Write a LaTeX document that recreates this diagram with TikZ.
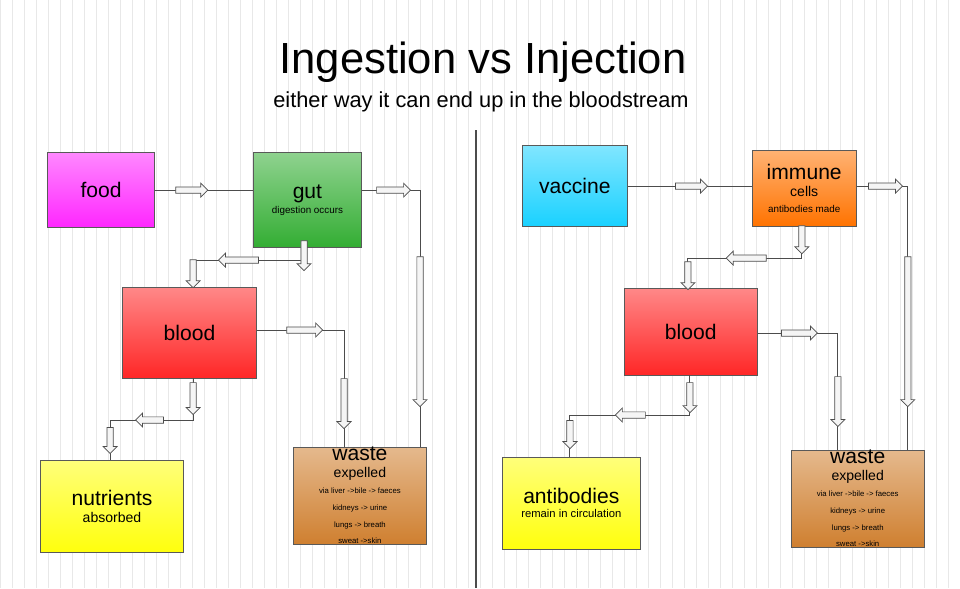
\documentclass[tikz,border=0pt]{standalone}
\usepackage{fontspec}
\setmainfont{Liberation Sans}
\usetikzlibrary{shapes.arrows}
\begin{document}
\begin{tikzpicture}[x=0.025cm,y=-0.025cm,
  box/.style={draw=gray!70!black,line width=0.5pt,inner sep=0pt,anchor=north west,align=center},
  conn/.style={draw=gray!60!black,line width=0.7pt},
  barrow/.style={single arrow,draw=gray!60!black,fill=gray!8,line width=0.5pt,minimum width=14*0.025cm,single arrow head extend=2.5*0.025cm,inner sep=1.2pt,anchor=center},
  big/.style={font=\fontsize{15}{16}\selectfont},
  sm/.style={font=\fontsize{7}{8}\selectfont},
  tiny/.style={font=\fontsize{5}{5.6}\selectfont}]
\newcommand\mkbox[7]{\node[box,minimum width=#4*0.025cm,minimum height=#5*0.025cm,top color=#6!55!white,bottom color=#6] (#1) at (#2,#3) {#7};}
\newcommand\barr[4]{\node[barrow,rotate=#3,minimum height=#4*0.025cm] at (#1,#2) {};}
\fill[white] (0,0) rectangle (960,588);
\draw[gray!18,line width=0.3pt] (0,0) grid[step=12] (960,588);
\useasboundingbox (0,0) rectangle (960,588);
\node (t) at (483,62) {\fontsize{31}{34}\selectfont Ingestion vs Injection};
\node (st) at (481,102) {\fontsize{15.5}{17}\selectfont either way it can end up in the bloodstream};
\coordinate (d1) at (476,130); \coordinate (d2) at (476,588);
\draw[gray!60!black,line width=0.8pt] (d1) -- (d2);
% left boxes
\mkbox{food}{47}{152}{107}{75}{magenta!85!white}{\fontsize{15}{16}\selectfont food}
\mkbox{gut}{253}{152}{108}{95}{green!60!black!80!white}{\fontsize{15}{16}\selectfont gut\\[-1pt]\fontsize{7}{8}\selectfont digestion occurs}
\mkbox{blood}{122}{287}{134}{91}{red!85!white}{\fontsize{15}{16}\selectfont blood}
\mkbox{nut}{40}{460}{143}{92}{yellow!95!white}{\fontsize{15}{17}\selectfont nutrients\\absorbed}
\mkbox{waste}{293}{447}{133}{94}{brown!75!orange}{\fontsize{15}{16}\selectfont waste\\expelled\\[-1pt]\fontsize{5.5}{6.5}\selectfont via liver ->bile -> faeces\\\fontsize{5.5}{6.5}\selectfont kidneys -> urine\\\fontsize{5.5}{6.5}\selectfont lungs -> breath\\\fontsize{5.5}{6.5}\selectfont sweat ->skin}
% right boxes
\mkbox{vac}{522}{145}{105}{81}{cyan!80!blue!90!white}{\fontsize{15}{16}\selectfont vaccine}
\mkbox{imm}{752}{150}{104}{76}{orange!90!red}{\fontsize{15}{16}\selectfont immune\\cells\\[-1pt]\fontsize{7}{8}\selectfont antibodies made}
\mkbox{blood2}{624}{288}{133}{87}{red!85!white}{\fontsize{15}{16}\selectfont blood}
\mkbox{anti}{502}{457}{138}{92}{yellow!95!white}{\fontsize{15}{17}\selectfont antibodies\\[-2pt]\fontsize{8}{9}\selectfont remain in circulation}
\mkbox{waste2}{791}{450}{133}{96}{brown!75!orange}{\fontsize{15}{16}\selectfont waste\\expelled\\[-1pt]\fontsize{5.5}{6.5}\selectfont via liver ->bile -> faeces\\\fontsize{5.5}{6.5}\selectfont kidneys -> urine\\\fontsize{5.5}{6.5}\selectfont lungs -> breath\\\fontsize{5.5}{6.5}\selectfont sweat ->skin}
% left connectors
\draw[conn] (food.east |- 0,190) -- (gut.west |- 0,190);
\barr{190}{190}{0}{32}
\draw[conn] (304,247) -- (304,260) -- (193,260) -- (blood.north -| 193,0);
\barr{304}{254}{-90}{30}
\barr{240}{260}{180}{40}
\barr{193}{272}{-90}{28}
\draw[conn] (gut.east |- 0,190) -- (420,190) -- (waste.north -| 420,0);
\barr{392}{190}{0}{34}
\barr{420}{330}{-90}{150}
\draw[conn] (blood.east |- 0,330) -- (344,330) -- (waste.north -| 344,0);
\barr{303}{330}{0}{36}
\barr{344}{402}{-90}{50}
\draw[conn] (193,378) -- (193,420) -- (110,420) -- (nut.north -| 110,0);
\barr{193}{397}{-90}{32}
\barr{151}{420}{180}{28}
\barr{110}{439}{-90}{26}
% right connectors
\draw[conn] (vac.east |- 0,186) -- (imm.west |- 0,186);
\barr{690}{186}{0}{32}
\draw[conn] (802,226) -- (802,258) -- (688,258) -- (blood2.north -| 688,0);
\barr{802}{238}{-90}{28}
\barr{748}{258}{180}{40}
\barr{688}{274}{-90}{28}
\draw[conn] (imm.east |- 0,186) -- (908,186) -- (waste2.north -| 908,0);
\barr{884}{186}{0}{34}
\barr{908}{330}{-90}{150}
\draw[conn] (blood2.east |- 0,333) -- (838,333) -- (waste2.north -| 838,0);
\barr{798}{333}{0}{36}
\barr{838}{400}{-90}{50}
\draw[conn] (690,375) -- (690,415) -- (570,415) -- (anti.north -| 570,0);
\barr{690}{396}{-90}{30}
\barr{632}{415}{180}{30}
\barr{570}{433}{-90}{28}
\end{tikzpicture}
\end{document}
